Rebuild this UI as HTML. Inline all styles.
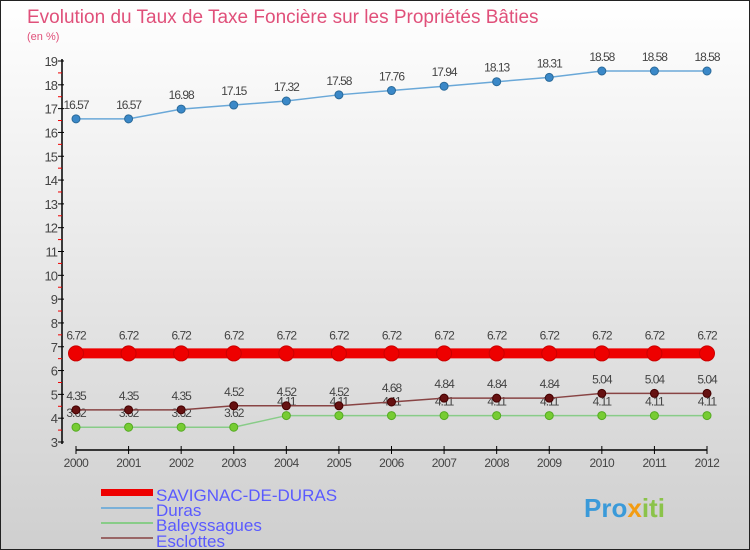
<!DOCTYPE html>
<html><head><meta charset="utf-8"><style>
body{margin:0}
#c{width:750px;height:550px;position:relative;overflow:hidden;background:linear-gradient(#fff,#cfcfcf);box-sizing:border-box;border:1px solid #222;font-family:"Liberation Sans","DejaVu Sans",sans-serif}
</style></head><body>
<div id="c">
<svg id="s" width="750" height="550" style="position:absolute;left:0;top:0;font-family:'Liberation Sans',sans-serif">
<text x="26" y="22" font-size="19" fill="#e0507a">Evolution du Taux de Taxe Foncière sur les Propriétés Bâties</text>
<text x="26" y="39" font-size="11" fill="#e0507a">(en %)</text>
<g id="axes"></g><g id="series"></g>
<g>
<rect x="100" y="488" width="52" height="7" fill="#e00"/>
<text x="155" y="500" font-size="17" fill="#5a5aff">SAVIGNAC-DE-DURAS</text>
<line x1="100" y1="507" x2="152" y2="507" stroke="#7ab0d8" stroke-width="2"/>
<text x="155" y="515" font-size="17" fill="#5a5aff">Duras</text>
<line x1="100" y1="522" x2="152" y2="522" stroke="#8c8" stroke-width="2"/>
<text x="155" y="530" font-size="17" fill="#5a5aff">Baleyssagues</text>
<line x1="100" y1="537" x2="152" y2="537" stroke="#966" stroke-width="2"/>
<text x="155" y="546" font-size="17" fill="#5a5aff">Esclottes</text>
</g>
<text x="583" y="516" font-size="26" font-weight="bold" fill="#3a9ad9">Pro<tspan fill="#f39c12">x</tspan><tspan fill="#8bc34a">iti</tspan></text>
</svg>
</div>
<script>
const years=[2000,2001,2002,2003,2004,2005,2006,2007,2008,2009,2010,2011,2012];
const savignac=[6.72,6.72,6.72,6.72,6.72,6.72,6.72,6.72,6.72,6.72,6.72,6.72,6.72];
const duras=[16.57,16.57,16.98,17.15,17.32,17.58,17.76,17.94,18.13,18.31,18.58,18.58,18.58];
const baleyssagues=[3.62,3.62,3.62,3.62,4.11,4.11,4.11,4.11,4.11,4.11,4.11,4.11,4.11];
const esclottes=[4.35,4.35,4.35,4.52,4.52,4.52,4.68,4.84,4.84,4.84,5.04,5.04,5.04];
const yTicks=[3,4,5,6,7,8,9,10,11,12,13,14,15,16,17,18,19];
const NS="http://www.w3.org/2000/svg";
const X=i=>75+i*(706-75)/(years.length-1);
const Y=v=>441-(v-3)*(441-60)/16;
function mk(p,t,a){const e=document.createElementNS(NS,t);for(const k in a)e.setAttribute(k,a[k]);p.appendChild(e);return e;}
const ax=document.getElementById('axes');
let l=mk(ax,'line',{x1:61,y1:58,x2:61,y2:443,stroke:'#000','stroke-width':1.5});


yTicks.forEach(t=>{
 const y=Y(t);
 mk(ax,'line',{x1:57,y1:y,x2:63,y2:y,stroke:'#000'});
 if(t<19)mk(ax,'line',{x1:57,y1:Y(t+0.5),x2:61,y2:Y(t+0.5),stroke:'#e00'});
 const tx=mk(ax,'text',{x:56,y:y+5,'font-size':13,fill:'#444','text-anchor':'end','letter-spacing':'-1'});
 tx.textContent=t;
 
 
});
l=mk(ax,'line',{x1:75,y1:449,x2:706,y2:449,stroke:'#000','stroke-width':1.5});


years.forEach((yr,i)=>{
 mk(ax,'line',{x1:X(i),y1:445,x2:X(i),y2:453,stroke:'#000'});
 const tx=mk(ax,'text',{x:X(i),y:466,'font-size':12,fill:'#444','text-anchor':'middle','letter-spacing':'-0.5'});
 tx.textContent=yr;
 
 
});
const sg=document.getElementById('series');
function series(vals,name,col,dot,w,r,stroke,off){
 const g=mk(sg,'g',{});
 
 
 const pl=mk(g,'polyline',{points:vals.map((v,i)=>X(i)+','+Y(v)).join(' '),fill:'none',stroke:col,'stroke-width':w});
 
 
 vals.forEach((v,i)=>{
  const c=mk(g,'circle',{cx:X(i),cy:Y(v),r:r,fill:dot,stroke:stroke,'stroke-width':1});
  
  
  const t=mk(g,'text',{x:X(i),y:Y(v)-off,'font-size':12,fill:'#444','text-anchor':'middle','letter-spacing':'-1'});
  t.textContent=String(v);
  
  
 });
}
series(duras,'duras','#6aa8d8','#3a88c8',1.5,4,'#2a6a9a',10);
series(baleyssagues,'baleyssagues','#8c8','#7c3',1.5,4,'#5a2',10);
series(esclottes,'esclottes','#844','#611',1.5,4,'#400',10);
series(savignac,'savignac','#e00','#e00',10,7.5,'#c00',14);
</script>
</body></html>
